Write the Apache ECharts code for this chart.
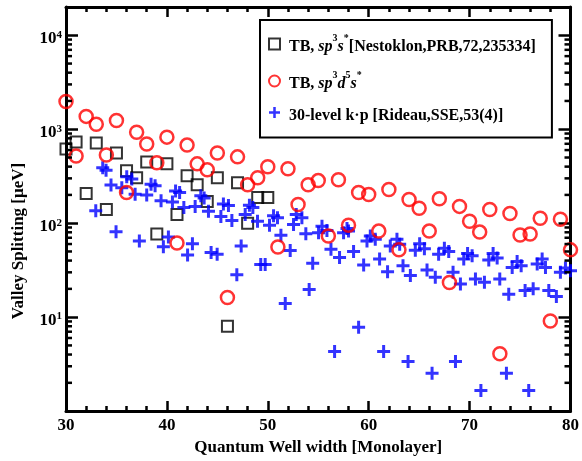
<!DOCTYPE html>
<html>
<head>
<meta charset="utf-8">
<script src="https://cdn.jsdelivr.net/npm/echarts@6.0.0/dist/echarts.min.js"></script>
<style>
  html, body { margin: 0; padding: 0; background: #fff; }
  #valleyChart { width: 582px; height: 461px; }
</style>
</head>
<body>
<div id="valleyChart"></div>
<script>
// well widths (monolayers)
var widthsTB = [30, 31, 32, 33, 34, 35, 36, 37, 38, 39, 40, 41, 42, 43, 44, 45, 46, 47, 48, 49, 50,
  51, 52, 53, 54, 55, 56, 57, 58, 59, 60, 61, 62, 63, 64, 65, 66, 67, 68, 69, 70,
  71, 72, 73, 74, 75, 76, 77, 78, 79, 80];

// TB sp3s* [Nestoklon], 30..50
var nestoklon = [616, 730, 207, 712, 140, 559, 361, 305, 449, 76.6, 428, 124, 320, 257, 170, 305, 8.0, 270, 100, 188, 188];

// TB sp3d5s*, 30..80
var sp3d5s = [1970, 520, 1370, 1130, 532, 1240, 212, 930, 695, 439, 824, 61.6, 678, 428, 370, 559, 16.2, 508, 257, 305, 398,
  55.9, 379, 158, 257, 284, 73, 290, 95.3, 212, 202, 82.4, 228, 52, 179, 144, 82.4, 182, 23.4, 151, 105,
  80.4, 140, 4.08, 127, 74.8, 76.6, 113, 9.08, 110, 52];

// 30-level k.p [Rideau]: widths and splittings
var kpWidths = [32.95, 33.64, 33.97, 34.46, 34.96, 35.53, 36.02, 36.52, 36.85, 37.27, 38.0, 38.43, 38.83, 39.42, 39.65,
  40.15, 40.55, 40.86, 41.26, 41.68, 42.05, 42.53, 42.8, 43.36, 43.69, 44.12, 44.38, 44.98, 45.35, 45.6,
  46.1, 46.44, 46.93, 47.36, 47.76, 48.18, 48.52, 48.98, 49.3, 49.74, 50.17, 50.57, 50.96, 51.3, 51.73,
  52.22, 52.55, 52.82, 53.38, 53.77, 54.1, 54.45, 55.03, 55.37, 55.86, 56.26, 56.62, 57.11, 57.51, 57.85,
  58.0, 58.5, 59.0, 59.5, 59.83, 60.16, 60.65, 61.08, 61.48, 61.87, 62.14, 62.8, 63.07, 63.4, 63.9,
  64.13, 64.62, 65.05, 65.52, 65.78, 66.28, 66.6, 66.93, 67.5, 67.93, 68.36, 68.6, 69.09, 69.42, 69.8,
  70.25, 70.58, 71.12, 71.47, 71.9, 72.33, 72.73, 72.99, 73.65, 73.88, 74.22, 74.71, 75.11, 75.5, 75.86,
  76.3, 76.7, 77.19, 77.52, 77.85, 78.6, 79.0, 79.5, 80.0];
var kpValues = [136, 388, 367, 255, 81, 239, 312, 296, 203, 64.7, 200, 259, 251, 173, 56.3,
  71.2, 168, 220, 212, 147, 46, 60.5, 151, 196, 185, 134, 48.7, 46.8, 118, 160,
  154, 107, 28.2, 57.3, 124, 155, 147, 105, 36.3, 36.3, 95.3, 120, 114, 74.2, 14.0,
  51.1, 96.9, 124, 114, 77.2, 19.7, 37.5, 79, 93, 83.8, 52.9, 4.31, 43.1, 79, 88,
  82.4, 49.9, 7.8, 35.9, 64.7, 73, 67.3, 41.5, 4.31, 30.5, 57.3, 67.3, 59.7, 35.3, 3.38,
  27.7, 51.6, 60.5, 53.6, 31.8, 2.53, 26.6, 46.8, 54.2, 49.9, 30, 3.38, 22.6, 41.5, 47.5,
  45, 25.5, 1.66, 23.5, 40.5, 47.5, 42.5, 25.5, 2.53, 17.5, 33.8, 39.1, 35.3, 19.2, 1.66,
  20, 36.7, 41.5, 33.8, 19.2, 16.6, 30, 33.4, 31.2];

// axis ticks
var xMin = 30, xMax = 80, xStep = 10;
var yMin = 1, yMax = 20000;
var decades = [1, 10, 100, 1000, 10000];
var minorMult = [2, 3, 4, 5, 6, 7, 8, 9];

var nameA = "TB, sp3s* [Nestoklon,PRB,72,235334]";
var nameB = "TB, sp3d5s*";
var nameC = "30-level k\u00b7p [Rideau,SSE,53(4)]";

var serif = "Liberation Serif";

var pairs = function (xs, ys) {
  return ys.map(function (v, i) { return [xs[i], v]; });
};

var minorTicks = [];
decades.forEach(function (d) {
  minorMult.forEach(function (m) {
    if (d * m < yMax) minorTicks.push([xMin, d * m]);
  });
});

var crossPath = "path://M5,0 H8 V5 H13 V8 H8 V13 H5 V8 H0 V5 H5 Z";

var chart = echarts.init(document.getElementById("valleyChart"));

var axisLineStyle = { color: "#000", width: 3 };

var options = {
  animation: false,
  backgroundColor: "#fff",
  grid: { left: 66, right: 11, top: 7, bottom: 49 },
  legend: {
    orient: "vertical",
    left: 260,
    top: 20,
    padding: [13, 16, 14, 8],
    itemGap: 15,
    itemWidth: 11,
    itemHeight: 11,
    backgroundColor: "#fff",
    borderColor: "#000",
    borderWidth: 2,
    data: [nameA, nameB, nameC],
    formatter: function (n) {
      if (n === nameA) return "{b| TB, }{i|sp}{s|3}{i|s}{s|*}{b|[Nestoklon,PRB,72,235334]}";
      if (n === nameB) return "{b| TB, }{i|sp}{s|3}{i|d}{s|5}{i|s}{s|*}";
      return "{b| 30-level k\u00b7p [Rideau,SSE,53(4)]}";
    },
    textStyle: {
      fontFamily: serif,
      fontWeight: "bold",
      fontSize: 16,
      color: "#000",
      rich: {
        b: { fontFamily: serif, fontWeight: "bold", fontSize: 16, lineHeight: 22, verticalAlign: "bottom", color: "#000" },
        i: { fontFamily: serif, fontWeight: "bold", fontStyle: "italic", fontSize: 16, lineHeight: 22, verticalAlign: "bottom", color: "#000" },
        s: { fontFamily: serif, fontWeight: "bold", fontSize: 10, lineHeight: 22, verticalAlign: "top", color: "#000" }
      }
    }
  },
  xAxis: [
    {
      type: "value",
      min: xMin,
      max: xMax,
      interval: xStep,
      name: "Quantum Well width [Monolayer]",
      nameLocation: "middle",
      nameGap: 22,
      nameTextStyle: { fontFamily: serif, fontWeight: "bold", fontSize: 17, color: "#000" },
      axisLine: { lineStyle: axisLineStyle },
      axisTick: { inside: true, length: 10, lineStyle: { color: "#000", width: 2.5 } },
      minorTick: { show: true, splitNumber: 5, length: 5, lineStyle: { color: "#000", width: 2.5 } },
      axisLabel: { margin: 6, fontFamily: serif, fontWeight: "bold", fontSize: 17, color: "#000" },
      splitLine: { show: false }
    },
    {
      type: "value",
      position: "top",
      min: xMin,
      max: xMax,
      interval: xStep,
      axisLine: { lineStyle: axisLineStyle },
      axisTick: { inside: true, length: 10, lineStyle: { color: "#000", width: 2.5 } },
      minorTick: { show: true, splitNumber: 5, length: 5, lineStyle: { color: "#000", width: 2.5 } },
      axisLabel: { show: false },
      splitLine: { show: false }
    }
  ],
  yAxis: [
    {
      type: "log",
      logBase: 10,
      min: yMin,
      max: yMax,
      name: "Valley Splitting [\u03bceV]",
      nameLocation: "middle",
      nameGap: 39,
      nameTextStyle: { fontFamily: serif, fontWeight: "bold", fontSize: 17, color: "#000", padding: [0, 64, 0, 0] },
      axisLine: { lineStyle: axisLineStyle },
      axisTick: { inside: true, length: 12, lineStyle: { color: "#000", width: 2.5 } },
      axisLabel: {
        margin: 4,
        padding: [6, 0, 0, 0],
        formatter: function (v) {
          var e = Math.round(Math.log10(v));
          if (e < 1 || Math.abs(Math.pow(10, e) - v) > 1e-6 * v) return "";
          return "{b|10}{s|" + e + "}";
        },
        rich: {
          b: { fontFamily: serif, fontWeight: "bold", fontSize: 17, lineHeight: 18, verticalAlign: "bottom", color: "#000" },
          s: { fontFamily: serif, fontWeight: "bold", fontSize: 11, lineHeight: 18, verticalAlign: "top", color: "#000" }
        }
      },
      splitLine: { show: false }
    },
    {
      type: "log",
      logBase: 10,
      position: "right",
      min: yMin,
      max: yMax,
      axisLine: { lineStyle: axisLineStyle },
      axisTick: { inside: true, length: 12, lineStyle: { color: "#000", width: 2.5 } },
      axisLabel: { show: false },
      splitLine: { show: false }
    }
  ],
  series: [
    {
      // minor log ticks, both sides
      type: "custom",
      silent: true,
      xAxisIndex: 0,
      yAxisIndex: 0,
      z: 5,
      data: minorTicks,
      renderItem: function (params, api) {
        var p = api.coord([api.value(0), api.value(1)]);
        var cs = params.coordSys;
        var st = { stroke: "#000", lineWidth: 2.5 };
        return {
          type: "group",
          children: [
            { type: "line", shape: { x1: cs.x, y1: p[1], x2: cs.x + 6, y2: p[1] }, style: st },
            { type: "line", shape: { x1: cs.x + cs.width - 6, y1: p[1], x2: cs.x + cs.width, y2: p[1] }, style: st }
          ]
        };
      }
    },
    {
      name: nameA,
      type: "scatter",
      symbol: "rect",
      symbolSize: 11,
      itemStyle: { color: "transparent", borderColor: "#000", borderWidth: 2 },
      data: pairs(widthsTB, nestoklon),
      z: 3
    },
    {
      name: nameB,
      type: "scatter",
      symbol: "circle",
      symbolSize: 13,
      itemStyle: { color: "transparent", borderColor: "#ff0000", borderWidth: 2.5 },
      data: pairs(widthsTB, sp3d5s),
      z: 4
    },
    {
      name: nameC,
      type: "scatter",
      symbol: crossPath,
      symbolSize: 13,
      itemStyle: { color: "#0000ff" },
      data: pairs(kpWidths, kpValues),
      z: 3
    }
  ]
};

chart.setOption(options);
</script>
</body>
</html>
